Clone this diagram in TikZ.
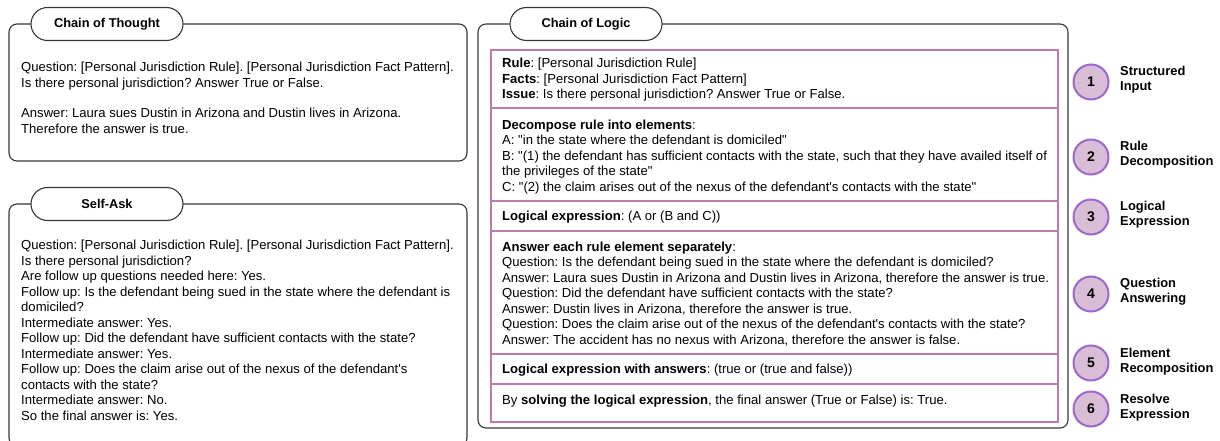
\documentclass[tikz,border=0pt]{standalone}
\usepackage{fontspec}
\setmainfont{Liberation Sans}
\usetikzlibrary{positioning, shapes.misc}

\definecolor{rowpink}{RGB}{192,122,170}
\definecolor{stepfill}{RGB}{217,188,213}
\definecolor{stepline}{RGB}{155,105,205}
\definecolor{framegray}{RGB}{55,55,55}
\newcommand{\sq}{\textquotesingle}
\newcommand{\dq}{\textquotedbl}

\begin{document}
\begin{tikzpicture}[x=1pt, y=-1pt, font=\fontsize{13.1}{15.5}\selectfont\frenchspacing]
	\tikzstyle{frame} = [draw=framegray, line width=1.1pt, rounded corners=8pt]
	\tikzstyle{tab} = [draw=framegray, line width=1.1pt, fill=white, rounded rectangle, minimum width=152pt, minimum height=33pt, inner sep=0pt, font=\fontsize{12.8}{14}\selectfont\bfseries]
	\tikzstyle{body} = [anchor=base west, inner sep=0pt, align=left]
	\tikzstyle{row} = [draw=rowpink, line width=1.4pt]
	\tikzstyle{stepnum} = [circle, draw=stepline, fill=stepfill, line width=2pt, minimum size=35pt, inner sep=0pt, font=\fontsize{14}{16}\selectfont\bfseries]
	\tikzstyle{steplabel} = [anchor=west, align=left, inner sep=0pt, font=\fontsize{12.9}{15}\selectfont\bfseries]

	\useasboundingbox (0,0) rectangle (1220,441);
	\clip (0,0) rectangle (1220,441);

	% Chain of Thought
	\draw[frame] (9,24) rectangle (467,161);
	\node[tab] 	at (107,24) 	(cot) 	{Chain of Thought};
	% multi-line text sits on the base of its last line
	\node[body] 	at (21,133) 	(cottext) {Question: [Personal Jurisdiction Rule]. [Personal Jurisdiction Fact Pattern].\\
		Is there personal jurisdiction? Answer True or False.\\[15pt]
		Answer: Laura sues Dustin in Arizona and Dustin lives in Arizona.\\
		Therefore the answer is true.};

	% Self-Ask
	\draw[frame] (9,204) rectangle (467,446);
	\node[tab] 	at (107,204) 	(sa) 	{Self-Ask};
	\node[body] 	at (21,420) 	(satext) {Question: [Personal Jurisdiction Rule]. [Personal Jurisdiction Fact Pattern].\\
		Is there personal jurisdiction?\\
		Are follow up questions needed here: Yes.\\
		Follow up: Is the defendant being sued in the state where the defendant is\\
		domiciled?\\
		Intermediate answer: Yes.\\
		Follow up: Did the defendant have sufficient contacts with the state?\\
		Intermediate answer: Yes.\\
		Follow up: Does the claim arise out of the nexus of the defendant\sq s\\
		contacts with the state?\\
		Intermediate answer: No.\\
		So the final answer is: Yes.};

	% Chain of Logic
	\draw[frame] (478,24) rectangle (1068,428);
	\node[tab] 	at (586,24) 	(col) 	{Chain of Logic};

	\draw[row] (491,50) rectangle (1058,422);
	\draw[row] (491,108) -- (1058,108);
	\draw[row] (491,201) -- (1058,201);
	\draw[row] (491,231) -- (1058,231);
	\draw[row] (491,354) -- (1058,354);
	\draw[row] (491,384) -- (1058,384);

	\node[body] 	at (502,99) 	(input) {\textbf{Rule}: [Personal Jurisdiction Rule]\\
		\textbf{Facts}: [Personal Jurisdiction Fact Pattern]\\
		\textbf{Issue}: Is there personal jurisdiction? Answer True or False.};
	\node[body] 	at (502,191) 	(decomp) {\textbf{Decompose rule into elements}:\\
		A: \dq in the state where the defendant is domiciled\dq\\
		B: \dq(1) the defendant has sufficient contacts with the state, such that they have availed itself of\\
		the privileges of the state\dq\\
		C: \dq(2) the claim arises out of the nexus of the defendant\sq s contacts with the state\dq};
	\node[body] 	at (502,220) 	(expr) {\textbf{Logical expression}: (A or (B and C))};
	\node[body] 	at (502,344) 	(qa) {\textbf{Answer each rule element separately}:\\
		Question: Is the defendant being sued in the state where the defendant is domiciled?\\
		Answer: Laura sues Dustin in Arizona and Dustin lives in Arizona, therefore the answer is true.\\
		Question: Did the defendant have sufficient contacts with the state?\\
		Answer: Dustin lives in Arizona, therefore the answer is true.\\
		Question: Does the claim arise out of the nexus of the defendant\sq s contacts with the state?\\
		Answer: The accident has no nexus with Arizona, therefore the answer is false.};
	\node[body] 	at (502,373) 	(recomp) {\textbf{Logical expression with answers}: (true or (true and false))};
	\node[body] 	at (502,404) 	(resolve) {By \textbf{solving the logical expression}, the final answer (True or False) is: True.};

	% steps
	\node[stepnum] 	at (1091,82) 	(s1) 	{1};
	\node[stepnum] 	at (1091,157) 	(s2) 	{2};
	\node[stepnum] 	at (1091,217) 	(s3) 	{3};
	\node[stepnum] 	at (1091,294) 	(s4) 	{4};
	\node[stepnum] 	at (1091,363) 	(s5) 	{5};
	\node[stepnum] 	at (1091,409) 	(s6) 	{6};

	\node[steplabel] 	at (1120,80) 	(l1) 	{Structured\\Input};
	\node[steplabel] 	at (1120,155) 	(l2) 	{Rule\\Decomposition};
	\node[steplabel] 	at (1120,215) 	(l3) 	{Logical\\Expression};
	\node[steplabel] 	at (1120,292) 	(l4) 	{Question\\Answering};
	\node[steplabel] 	at (1120,362) 	(l5) 	{Element\\Recomposition};
	\node[steplabel] 	at (1120,408) 	(l6) 	{Resolve\\Expression};
\end{tikzpicture}
\end{document}
